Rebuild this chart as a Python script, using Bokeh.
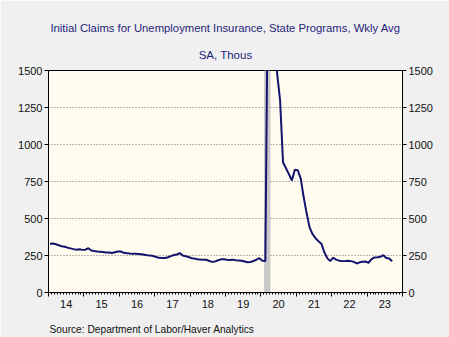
from bokeh.plotting import figure
from bokeh.models import (Range1d, LinearAxis, FixedTicker, Title, ColumnDataSource)
from bokeh.embed import file_html
from bokeh.resources import INLINE

# ---- data (monthly averages of weekly initial claims, SA, thousands) ----
years = list(range(2014, 2024))
claims_2014 = [330, 331, 326, 319, 313, 309, 303, 298, 293, 289, 292, 288]
claims_2015 = [289, 299, 284, 280, 277, 275, 273, 271, 270, 267, 272, 277]
claims_2016 = [277, 268, 266, 263, 262, 261, 260, 258, 255, 252, 250, 246]
claims_2017 = [240, 234, 233, 233, 238, 246, 253, 257, 266, 250, 245, 240]
claims_2018 = [232, 229, 225, 223, 222, 221, 213, 207, 210, 218, 224, 225]
claims_2019 = [222, 220, 222, 218, 217, 215, 210, 204, 206, 213, 222, 232]
claims_2020 = [214, 212, 2400, 5100, 2800, 1480, 1300, 880, 840, 800, 757, 830]
claims_2021 = [826, 770, 645, 535, 440, 395, 367, 347, 330, 272, 232, 212]
claims_2022 = [235, 222, 215, 213, 212, 214, 212, 207, 196, 204, 208, 209]
claims_2023 = [201, 225, 237, 238, 241, 252, 233, 230, 211]
recession = [2020.09, 2020.27]          # Feb 2020 - Apr 2020 shading (decimal years)
year_labels = ["14", "15", "16", "17", "18", "19", "20", "21", "22", "23"]
y_ticks = [0, 250, 500, 750, 1000, 1250, 1500]

title_text = "Initial Claims for Unemployment Insurance, State Programs, Wkly Avg"
subtitle_text = "SA, Thous"
source_text = "Source:  Department of Labor/Haver Analytics"

# ---- build series ----
all_years = [claims_2014, claims_2015, claims_2016, claims_2017, claims_2018,
             claims_2019, claims_2020, claims_2021, claims_2022, claims_2023]
t, v = [], []
for yr, vals in zip(years, all_years):
    for m, val in enumerate(vals):
        t.append(yr + (m + 0.5) / 12.0)
        v.append(val)
src = ColumnDataSource(dict(t=t, v=v))

FONT = "Liberation Sans"
NAVY = "#14146E"
TXT = "#111111"
TITLE_C = "#1F1F7A"

p = figure(width=449, height=337, output_backend="svg", toolbar_location=None,
           x_range=Range1d(2014, 2024), y_range=Range1d(0, 1500),
           x_axis_location=None, y_axis_location=None,
           min_border_left=48, min_border_right=47, min_border_top=70, min_border_bottom=45)
p.border_fill_color = "#F0F0F0"
p.background_fill_color = "#FFFBEE"
p.outline_line_color = "black"
p.outline_line_width = 1
p.xgrid.visible = False
p.ygrid.ticker = FixedTicker(ticks=y_ticks)
p.ygrid.grid_line_color = "#707070"
p.ygrid.grid_line_dash = "1 2"
p.ygrid.grid_line_width = 1

# titles: p.title is outermost, the added Title sits nearest the frame
p.title.text = title_text
p.title.align = "center"
p.title.text_font = FONT
p.title.text_font_size = "11.3px"
p.title.text_font_style = "normal"
p.title.text_color = TITLE_C
p.title.standoff = 6
p.add_layout(Title(text=subtitle_text, align="center", text_font=FONT, text_font_size="11.5px",
                   text_font_style="normal", text_color=TITLE_C, standoff=20), "above")

# recession shading
p.quad(left=[recession[0]], right=[recession[1]], bottom=[0], top=[1500],
       fill_color="#C8C8C8", line_color=None)

p.line("t", "v", source=src, line_color=NAVY, line_width=2)

# ---- y axes ----
for side in ("left", "right"):
    ax = LinearAxis(ticker=FixedTicker(ticks=y_ticks))
    ax.major_tick_out = 4
    ax.major_tick_in = 0
    ax.minor_tick_out = 0
    ax.minor_tick_in = 0
    ax.major_label_standoff = 2
    ax.major_label_text_font = FONT
    ax.major_label_text_font_size = "11px"
    ax.major_label_text_color = TXT
    ax.axis_line_color = "black"
    ax.major_tick_line_color = "black"
    p.add_layout(ax, side)

# ---- x axis: year boundary ticks + monthly minor ticks ----
year_bounds = [y for y in range(2014, 2025)]
month_bounds = [y + m / 12.0 for y in range(2014, 2024) for m in range(1, 12)]
ax1 = LinearAxis(ticker=FixedTicker(ticks=year_bounds, minor_ticks=month_bounds))
ax1.major_tick_out = 4
ax1.major_tick_in = 0
ax1.minor_tick_out = 2
ax1.minor_tick_in = 0
ax1.major_label_text_font_size = "1px"
ax1.major_label_standoff = 0
ax1.major_label_overrides = {y: "" for y in year_bounds}
ax1.axis_line_color = "black"
p.add_layout(ax1, "below")

mid_years = [y + 0.5 for y in years]
ax2 = LinearAxis(ticker=FixedTicker(ticks=mid_years))
ax2.major_tick_out = 0
ax2.major_tick_in = 0
ax2.minor_tick_out = 0
ax2.minor_tick_in = 0
ax2.axis_line_color = None
ax2.major_label_standoff = 3
ax2.major_label_text_font = FONT
ax2.major_label_text_font_size = "11px"
ax2.major_label_text_color = TXT
ax2.major_label_overrides = {m: lab for m, lab in zip(mid_years, year_labels)}
ax2.axis_label = " "
ax2.axis_label_standoff = 4
ax2.axis_label_text_font_size = "5px"
p.add_layout(ax2, "below")

# source line
p.add_layout(Title(text=source_text, align="left", offset=1, text_font=FONT,
                   text_font_size="10.2px", text_font_style="normal", text_color=TXT,
                   vertical_align="top", standoff=0), "below")

open("out.html", "w").write(file_html(p, INLINE))
